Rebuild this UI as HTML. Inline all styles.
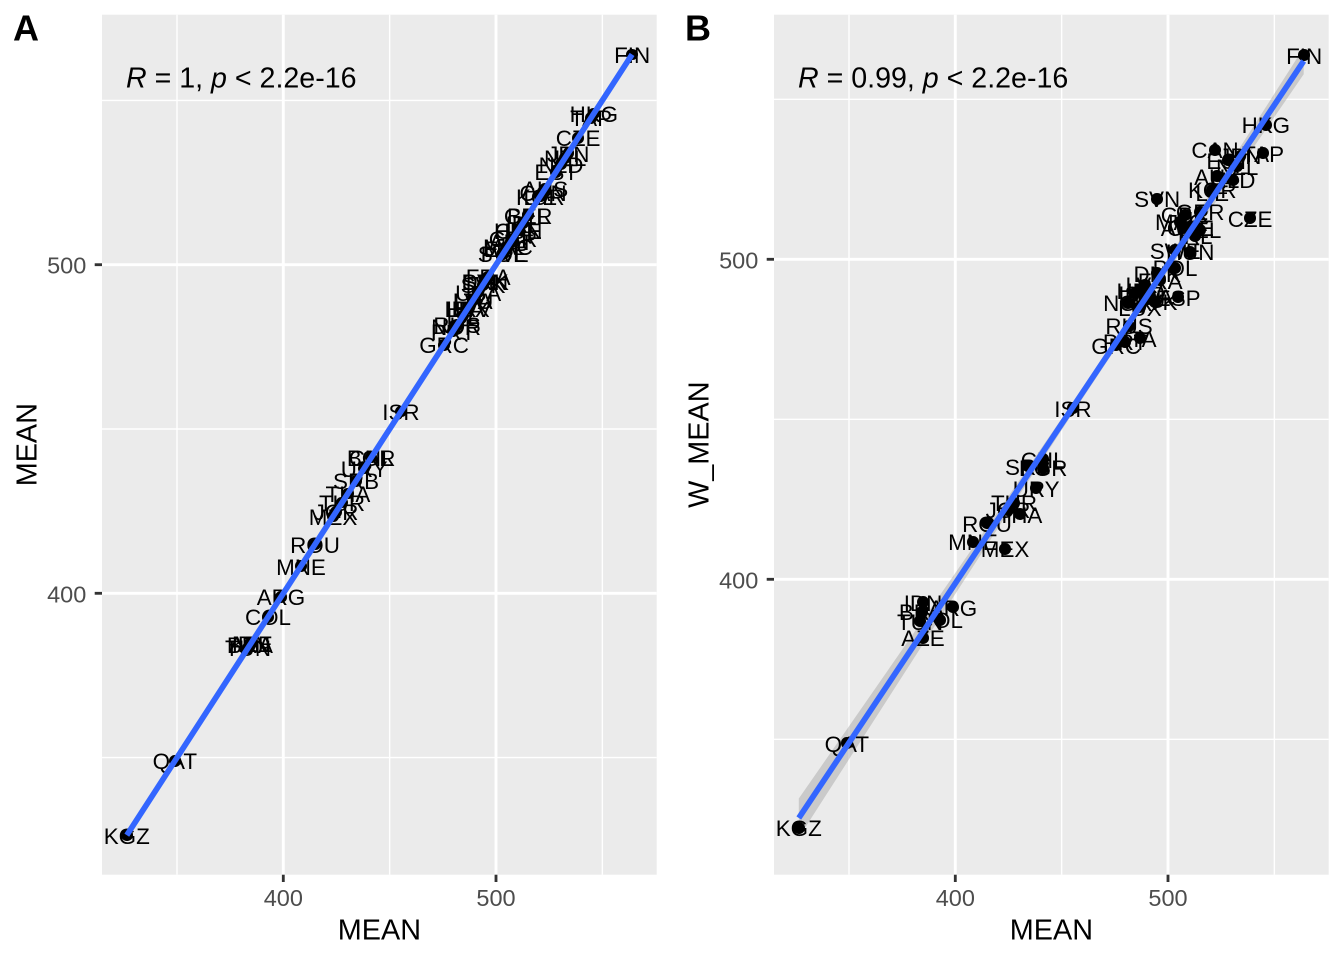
<!DOCTYPE html>
<html>
<head>
<meta charset="utf-8">
<style>
html,body{margin:0;padding:0}
body{width:1344px;height:960px;position:relative;overflow:hidden;background:#fff;font-family:"Liberation Sans",Arial,sans-serif}
svg{position:absolute;left:0;top:0}
.c{position:absolute;left:0;top:0;width:1344px;height:960px}
i{font-style:normal}
.l{position:absolute;font-size:22.4px;line-height:1;white-space:nowrap;transform:translateX(-50%);color:#000}
.p{position:absolute;width:11.6px;height:11.6px;border-radius:50%;background:#000;margin:-5.8px 0 0 -5.8px}
.a .l{left:calc(283.3px + (var(--v) - 400) * 2.127px);top:calc(583.84px - (var(--v) - 400) * 3.286px)}
.a .p{left:calc(283.3px + (var(--v) - 400) * 2.127px);top:calc(593.3px - (var(--v) - 400) * 3.286px)}
.b .l{left:calc(955.3px + (var(--v) - 400) * 2.127px);top:calc(569.84px - (var(--w) - 400) * 3.2px)}
.b .p{left:calc(955.3px + (var(--v) - 400) * 2.127px);top:calc(579.3px - (var(--w) - 400) * 3.2px)}
</style>
</head>
<body>
<svg width="1344" height="960" viewBox="0 0 1344 960">
  <!-- Panel A -->
  <rect x="102" y="14.7" width="554.7" height="860" fill="#EBEBEB"/>
  <g stroke="#fff" stroke-width="1.42">
    <line x1="177.0" y1="14.7" x2="177.0" y2="874.7"/>
    <line x1="389.65" y1="14.7" x2="389.65" y2="874.7"/>
    <line x1="602.35" y1="14.7" x2="602.35" y2="874.7"/>
    <line x1="102" y1="757.6" x2="656.7" y2="757.6"/>
    <line x1="102" y1="429.0" x2="656.7" y2="429.0"/>
    <line x1="102" y1="100.4" x2="656.7" y2="100.4"/>
  </g>
  <g stroke="#fff" stroke-width="2.84">
    <line x1="283.3" y1="14.7" x2="283.3" y2="874.7"/>
    <line x1="496.0" y1="14.7" x2="496.0" y2="874.7"/>
    <line x1="102" y1="593.3" x2="656.7" y2="593.3"/>
    <line x1="102" y1="264.7" x2="656.7" y2="264.7"/>
  </g>
  <g stroke="#333" stroke-width="2.84">
    <line x1="283.3" y1="874.7" x2="283.3" y2="882"/>
    <line x1="496.0" y1="874.7" x2="496.0" y2="882"/>
    <line x1="94.7" y1="593.3" x2="102" y2="593.3"/>
    <line x1="94.7" y1="264.7" x2="102" y2="264.7"/>
  </g>
  <g fill="#4D4D4D" font-size="23.5" font-family="Liberation Sans, Arial, sans-serif">
    <text x="283.3" y="906" text-anchor="middle">400</text>
    <text x="496.0" y="906" text-anchor="middle">500</text>
    <text x="86.3" y="602.3" text-anchor="end">400</text>
    <text x="86.3" y="273.7" text-anchor="end">500</text>
  </g>
  <g fill="#000" font-size="28.8" font-family="Liberation Sans, Arial, sans-serif">
    <text x="379.4" y="939.3" text-anchor="middle">MEAN</text>
    <text transform="translate(36.3,444.7) rotate(-90)" text-anchor="middle">MEAN</text>
    <text x="126" y="87.5" font-size="28.6"><tspan font-style="italic">R</tspan> = 1, <tspan font-style="italic">p</tspan> &lt; 2.2e-16</text>
  </g>
  <text x="13" y="40.7" font-size="36" font-weight="bold" font-family="Liberation Sans, Arial, sans-serif">A</text>

  <!-- Panel B -->
  <rect x="774" y="14.7" width="554.7" height="860" fill="#EBEBEB"/>
  <g stroke="#fff" stroke-width="1.42">
    <line x1="849.0" y1="14.7" x2="849.0" y2="874.7"/>
    <line x1="1061.65" y1="14.7" x2="1061.65" y2="874.7"/>
    <line x1="1274.35" y1="14.7" x2="1274.35" y2="874.7"/>
    <line x1="774" y1="739.3" x2="1328.7" y2="739.3"/>
    <line x1="774" y1="419.3" x2="1328.7" y2="419.3"/>
    <line x1="774" y1="99.3" x2="1328.7" y2="99.3"/>
  </g>
  <g stroke="#fff" stroke-width="2.84">
    <line x1="955.3" y1="14.7" x2="955.3" y2="874.7"/>
    <line x1="1168.0" y1="14.7" x2="1168.0" y2="874.7"/>
    <line x1="774" y1="579.3" x2="1328.7" y2="579.3"/>
    <line x1="774" y1="259.3" x2="1328.7" y2="259.3"/>
  </g>
  <g stroke="#333" stroke-width="2.84">
    <line x1="955.3" y1="874.7" x2="955.3" y2="882"/>
    <line x1="1168.0" y1="874.7" x2="1168.0" y2="882"/>
    <line x1="766.7" y1="579.3" x2="774" y2="579.3"/>
    <line x1="766.7" y1="259.3" x2="774" y2="259.3"/>
  </g>
  <g fill="#4D4D4D" font-size="23.5" font-family="Liberation Sans, Arial, sans-serif">
    <text x="955.3" y="906" text-anchor="middle">400</text>
    <text x="1168.0" y="906" text-anchor="middle">500</text>
    <text x="758.3" y="588.3" text-anchor="end">400</text>
    <text x="758.3" y="268.3" text-anchor="end">500</text>
  </g>
  <g fill="#000" font-size="28.8" font-family="Liberation Sans, Arial, sans-serif">
    <text x="1051.4" y="939.3" text-anchor="middle">MEAN</text>
    <text transform="translate(708.3,444.7) rotate(-90)" text-anchor="middle">W_MEAN</text>
    <text x="798" y="87.5" font-size="28.6"><tspan font-style="italic">R</tspan> = 0.99, <tspan font-style="italic">p</tspan> &lt; 2.2e-16</text>
  </g>
  <text x="685" y="40.7" font-size="36" font-weight="bold" font-family="Liberation Sans, Arial, sans-serif">B</text>

  <!-- confidence band B -->
  <polygon fill="#999999" fill-opacity="0.4" points="798.8,798.5 849.0,726.3 902.1,649.8 955.3,573.0 1008.5,496.1 1061.7,418.4 1104.2,355.3 1146.7,291.0 1199.9,209.3 1253.1,127.0 1303.7,47.7 1303.7,74.3 1253.1,148.0 1199.9,224.9 1146.7,302.6 1104.2,365.7 1061.7,430.0 1008.5,511.7 955.3,594.0 902.1,676.6 849.0,759.3 798.8,837.5"/>
</svg>

<div class="c a">
<i style="--v:564"><b class="p"></b><span class="l">FIN</span></i>
<i style="--v:546"><b class="p"></b><span class="l">HKG</span></i>
<i style="--v:544.7"><b class="p"></b><span class="l">TAP</span></i>
<i style="--v:538.6"><b class="p"></b><span class="l">CZE</span></i>
<i style="--v:534"><b class="p"></b><span class="l">JPN</span></i>
<i style="--v:532.5"><b class="p"></b><span class="l">NZL</span></i>
<i style="--v:530.6"><b class="p"></b><span class="l">NLD</span></i>
<i style="--v:528.3"><b class="p"></b><span class="l">EST</span></i>
<i style="--v:523.1"><b class="p"></b><span class="l">AUS</span></i>
<i style="--v:522.1"><b class="p"></b><span class="l">CAN</span></i>
<i style="--v:520.8"><b class="p"></b><span class="l">KOR</span></i>
<i style="--v:520.8"><b class="p"></b><span class="l">LIE</span></i>
<i style="--v:515.1"><b class="p"></b><span class="l">GER</span></i>
<i style="--v:515.1"><b class="p"></b><span class="l">BEL</span></i>
<i style="--v:512.7"><b class="p"></b><span class="l">IRL</span></i>
<i style="--v:510.5"><b class="p"></b><span class="l">CHE</span></i>
<i style="--v:510.4"><b class="p"></b><span class="l">HUN</span></i>
<i style="--v:508"><b class="p"></b><span class="l">GBR</span></i>
<i style="--v:507.1"><b class="p"></b><span class="l">AUT</span></i>
<i style="--v:505.6"><b class="p"></b><span class="l">MAC</span></i>
<i style="--v:504.8"><b class="p"></b><span class="l">ESP</span></i>
<i style="--v:503.4"><b class="p"></b><span class="l">SWE</span></i>
<i style="--v:503.3"><b class="p"></b><span class="l">POL</span></i>
<i style="--v:496.3"><b class="p"></b><span class="l">FRA</span></i>
<i style="--v:494.9"><b class="p"></b><span class="l">SVN</span></i>
<i style="--v:494.9"><b class="p"></b><span class="l">DNK</span></i>
<i style="--v:493.9"><b class="p"></b><span class="l">SVK</span></i>
<i style="--v:491.6"><b class="p"></b><span class="l">USA</span></i>
<i style="--v:489.2"><b class="p"></b><span class="l">LVA</span></i>
<i style="--v:489.2"><b class="p"></b><span class="l">LTU</span></i>
<i style="--v:486.8"><b class="p"></b><span class="l">HRV</span></i>
<i style="--v:486.8"><b class="p"></b><span class="l">LUX</span></i>
<i style="--v:486.8"><b class="p"></b><span class="l">ITA</span></i>
<i style="--v:484.5"><b class="p"></b><span class="l">ISL</span></i>
<i style="--v:481.7"><b class="p"></b><span class="l">RUS</span></i>
<i style="--v:481.2"><b class="p"></b><span class="l">NOR</span></i>
<i style="--v:479.8"><b class="p"></b><span class="l">PRT</span></i>
<i style="--v:475.6"><b class="p"></b><span class="l">GRC</span></i>
<i style="--v:455.3"><b class="p"></b><span class="l">ISR</span></i>
<i style="--v:441.3"><b class="p"></b><span class="l">CHL</span></i>
<i style="--v:441.3"><b class="p"></b><span class="l">BGR</span></i>
<i style="--v:438"><b class="p"></b><span class="l">URY</span></i>
<i style="--v:434.2"><b class="p"></b><span class="l">SRB</span></i>
<i style="--v:430.4"><b class="p"></b><span class="l">THA</span></i>
<i style="--v:427.6"><b class="p"></b><span class="l">TUR</span></i>
<i style="--v:424.8"><b class="p"></b><span class="l">JOR</span></i>
<i style="--v:423.4"><b class="p"></b><span class="l">MEX</span></i>
<i style="--v:414.9"><b class="p"></b><span class="l">ROU</span></i>
<i style="--v:408.3"><b class="p"></b><span class="l">MNE</span></i>
<i style="--v:398.9"><b class="p"></b><span class="l">ARG</span></i>
<i style="--v:392.8"><b class="p"></b><span class="l">COL</span></i>
<i style="--v:384.8"><b class="p"></b><span class="l">IDN</span></i>
<i style="--v:384.8"><b class="p"></b><span class="l">AZE</span></i>
<i style="--v:384.3"><b class="p"></b><span class="l">BRA</span></i>
<i style="--v:383.4"><b class="p"></b><span class="l">TUN</span></i>
<i style="--v:349"><b class="p"></b><span class="l">QAT</span></i>
<i style="--v:326.4"><b class="p"></b><span class="l">KGZ</span></i>
</div>

<div class="c b">
<i style="--v:564;--w:563.8"><b class="p"></b><span class="l">FIN</span></i>
<i style="--v:546;--w:542"><b class="p"></b><span class="l">HKG</span></i>
<i style="--v:544.7;--w:533.2"><b class="p"></b><span class="l">TAP</span></i>
<i style="--v:538.6;--w:512.9"><b class="p"></b><span class="l">CZE</span></i>
<i style="--v:534;--w:532.3"><b class="p"></b><span class="l">JPN</span></i>
<i style="--v:532.5;--w:529"><b class="p"></b><span class="l">NZL</span></i>
<i style="--v:530.6;--w:524.8"><b class="p"></b><span class="l">NLD</span></i>
<i style="--v:528.3;--w:531"><b class="p"></b><span class="l">EST</span></i>
<i style="--v:523.1;--w:526"><b class="p"></b><span class="l">AUS</span></i>
<i style="--v:522.1;--w:534.2"><b class="p"></b><span class="l">CAN</span></i>
<i style="--v:520.8;--w:521.7"><b class="p"></b><span class="l">KOR</span></i>
<i style="--v:520.8;--w:521"><b class="p"></b><span class="l">LIE</span></i>
<i style="--v:515.1;--w:514.8"><b class="p"></b><span class="l">GER</span></i>
<i style="--v:515.1;--w:509.2"><b class="p"></b><span class="l">BEL</span></i>
<i style="--v:512.7;--w:507.3"><b class="p"></b><span class="l">IRL</span></i>
<i style="--v:510.5;--w:510.1"><b class="p"></b><span class="l">CHE</span></i>
<i style="--v:510.4;--w:502.3"><b class="p"></b><span class="l">HUN</span></i>
<i style="--v:508;--w:513.9"><b class="p"></b><span class="l">GBR</span></i>
<i style="--v:507.1;--w:509.8"><b class="p"></b><span class="l">AUT</span></i>
<i style="--v:505.6;--w:511.7"><b class="p"></b><span class="l">MAC</span></i>
<i style="--v:504.8;--w:488.2"><b class="p"></b><span class="l">ESP</span></i>
<i style="--v:503.4;--w:502.9"><b class="p"></b><span class="l">SWE</span></i>
<i style="--v:503.3;--w:497.3"><b class="p"></b><span class="l">POL</span></i>
<i style="--v:496.3;--w:493.5"><b class="p"></b><span class="l">FRA</span></i>
<i style="--v:494.9;--w:518.9"><b class="p"></b><span class="l">SVN</span></i>
<i style="--v:494.9;--w:495.7"><b class="p"></b><span class="l">DNK</span></i>
<i style="--v:493.9;--w:486.7"><b class="p"></b><span class="l">SVK</span></i>
<i style="--v:491.6;--w:488.5"><b class="p"></b><span class="l">USA</span></i>
<i style="--v:489.2;--w:492"><b class="p"></b><span class="l">LVA</span></i>
<i style="--v:489.2;--w:487.3"><b class="p"></b><span class="l">LTU</span></i>
<i style="--v:486.8;--w:490.4"><b class="p"></b><span class="l">HRV</span></i>
<i style="--v:486.8;--w:485.1"><b class="p"></b><span class="l">LUX</span></i>
<i style="--v:486.8;--w:475.4"><b class="p"></b><span class="l">ITA</span></i>
<i style="--v:484.5;--w:489.4"><b class="p"></b><span class="l">ISL</span></i>
<i style="--v:481.7;--w:479.2"><b class="p"></b><span class="l">RUS</span></i>
<i style="--v:481.2;--w:486.4"><b class="p"></b><span class="l">NOR</span></i>
<i style="--v:479.8;--w:474.2"><b class="p"></b><span class="l">PRT</span></i>
<i style="--v:475.6;--w:473.2"><b class="p"></b><span class="l">GRC</span></i>
<i style="--v:455.3;--w:453.5"><b class="p"></b><span class="l">ISR</span></i>
<i style="--v:441.3;--w:437.6"><b class="p"></b><span class="l">CHL</span></i>
<i style="--v:441.3;--w:434.8"><b class="p"></b><span class="l">BGR</span></i>
<i style="--v:438;--w:428.5"><b class="p"></b><span class="l">URY</span></i>
<i style="--v:434.2;--w:435.4"><b class="p"></b><span class="l">SRB</span></i>
<i style="--v:430.4;--w:420.4"><b class="p"></b><span class="l">THA</span></i>
<i style="--v:427.6;--w:423.9"><b class="p"></b><span class="l">TUR</span></i>
<i style="--v:424.8;--w:421.7"><b class="p"></b><span class="l">JOR</span></i>
<i style="--v:423.4;--w:409.5"><b class="p"></b><span class="l">MEX</span></i>
<i style="--v:414.9;--w:417.6"><b class="p"></b><span class="l">ROU</span></i>
<i style="--v:408.3;--w:411.7"><b class="p"></b><span class="l">MNE</span></i>
<i style="--v:398.9;--w:391.3"><b class="p"></b><span class="l">ARG</span></i>
<i style="--v:392.8;--w:387.3"><b class="p"></b><span class="l">COL</span></i>
<i style="--v:384.8;--w:392.9"><b class="p"></b><span class="l">IDN</span></i>
<i style="--v:384.8;--w:381.7"><b class="p"></b><span class="l">AZE</span></i>
<i style="--v:384.3;--w:389.8"><b class="p"></b><span class="l">BRA</span></i>
<i style="--v:383.4;--w:386.9"><b class="p"></b><span class="l">TUN</span></i>
<i style="--v:349;--w:348.8"><b class="p"></b><span class="l">QAT</span></i>
<i style="--v:326.4;--w:322.3"><b class="p"></b><span class="l">KGZ</span></i>
</div>

<svg width="1344" height="960" viewBox="0 0 1344 960" style="pointer-events:none">
  <line x1="126.8" y1="835.2" x2="632.1" y2="54.4" stroke="#3366FF" stroke-width="5.7"/>
  <line x1="798.8" y1="818" x2="1303.7" y2="61" stroke="#3366FF" stroke-width="5.7"/>
</svg>
</body>
</html>
